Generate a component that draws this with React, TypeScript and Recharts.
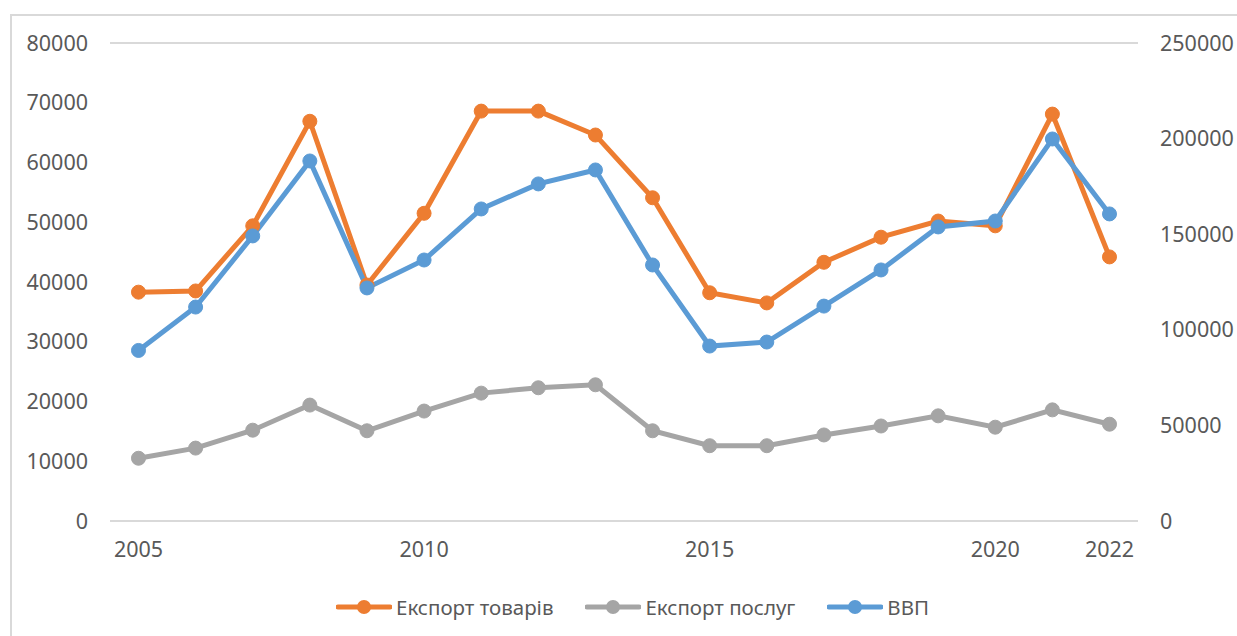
import { LineChart, Line, XAxis, YAxis, CartesianGrid, Legend } from "recharts"

const years = [2005, 2006, 2007, 2008, 2009, 2010, 2011, 2012, 2013, 2014, 2015, 2016, 2017, 2018, 2019, 2020, 2021, 2022]
const goodsExport = [38300, 38500, 49400, 66900, 39500, 51500, 68600, 68600, 64600, 54100, 38200, 36500, 43300, 47500, 50200, 49400, 68100, 44200]
const servicesExport = [10500, 12200, 15200, 19400, 15100, 18400, 21400, 22300, 22800, 15100, 12600, 12600, 14400, 15900, 17600, 15700, 18600, 16200]
const gdp = [89200, 111900, 149100, 188300, 121900, 136500, 163200, 176300, 183600, 133900, 91500, 93600, 112400, 131300, 153800, 156900, 199800, 160600]

const shownYears = [2005, 2010, 2015, 2020, 2022]
const leftTicks = [0, 10000, 20000, 30000, 40000, 50000, 60000, 70000, 80000]
const rightTicks = [0, 50000, 100000, 150000, 200000, 250000]

const seriesNames = ["Експорт товарів", "Експорт послуг", "ВВП"]
const seriesColors = ["#ED7D31", "#A5A5A5", "#5B9BD5"]

const FONT = "'Noto Sans', 'DejaVu Sans', sans-serif"
const TEXT = "#595959"

const data = years.map((year, i) => ({
  year,
  goods: goodsExport[i],
  services: servicesExport[i],
  gdp: gdp[i],
}))

function LegendContent() {
  return (
    <div style={{ display: "flex", justifyContent: "center", alignItems: "center", fontFamily: FONT, fontSize: 20.5, color: TEXT }}>
      {seriesNames.map((name, i) => (
        <div key={name} style={{ display: "flex", alignItems: "center", margin: "0 16px" }}>
          <svg width={56} height={16} style={{ marginRight: 4 }}>
            <line x1={2} y1={8} x2={54} y2={8} stroke={seriesColors[i]} strokeWidth={5} strokeLinecap="round" />
            <circle cx={28} cy={8} r={7} fill={seriesColors[i]} />
          </svg>
          <span>{name}</span>
        </div>
      ))}
    </div>
  )
}

export default function App() {
  const tick = { fill: TEXT, fontSize: 21.5, fontFamily: FONT }
  const keys = ["goods", "services", "gdp"]
  const axes = ["left", "left", "right"]
  return (
    <div style={{ position: "absolute", left: 0, top: 0, width: 1237, height: 636, background: "#fff", overflow: "hidden" }}>
      <div style={{ position: "absolute", left: 10, top: 14, width: 1300, height: 700, borderLeft: "2px solid #d9d9d9", borderTop: "2px solid #d9d9d9" }} />
      <LineChart width={1237} height={636} data={data} margin={{ top: 43, right: 0, bottom: 75, left: 0 }}>
        <CartesianGrid vertical={false} stroke="#d9d9d9" strokeWidth={2} />
        <XAxis
          dataKey="year"
          type="category"
          ticks={shownYears}
          interval={0}
          height={40}
          padding={{ left: 28.5, right: 28.5 }}
          axisLine={false}
          tickLine={false}
          tickSize={6}
          tickMargin={15}
          tick={tick}
        />
        <YAxis
          yAxisId="left"
          domain={[0, 80000]}
          ticks={leftTicks}
          width={110}
          axisLine={false}
          tickLine={false}
          tickSize={6}
          tickMargin={16}
          tick={tick}
        />
        <YAxis
          yAxisId="right"
          orientation="right"
          domain={[0, 250000]}
          ticks={rightTicks}
          width={99}
          axisLine={false}
          tickLine={false}
          tickSize={6}
          tickMargin={16}
          tick={tick}
        />
        <Legend
          layout="horizontal"
          verticalAlign="middle"
          align="center"
          wrapperStyle={{ top: 593, left: 14, width: 1237 }}
          content={<LegendContent />}
        />
        {keys.map((k, i) => (
          <Line
            key={k}
            yAxisId={axes[i]}
            name={seriesNames[i]}
            dataKey={k}
            stroke={seriesColors[i]}
            strokeWidth={5}
            dot={{ r: 7, fill: seriesColors[i], stroke: seriesColors[i], strokeWidth: 1 }}
            activeDot={false}
            isAnimationActive={false}
          />
        ))}
      </LineChart>
    </div>
  )
}
